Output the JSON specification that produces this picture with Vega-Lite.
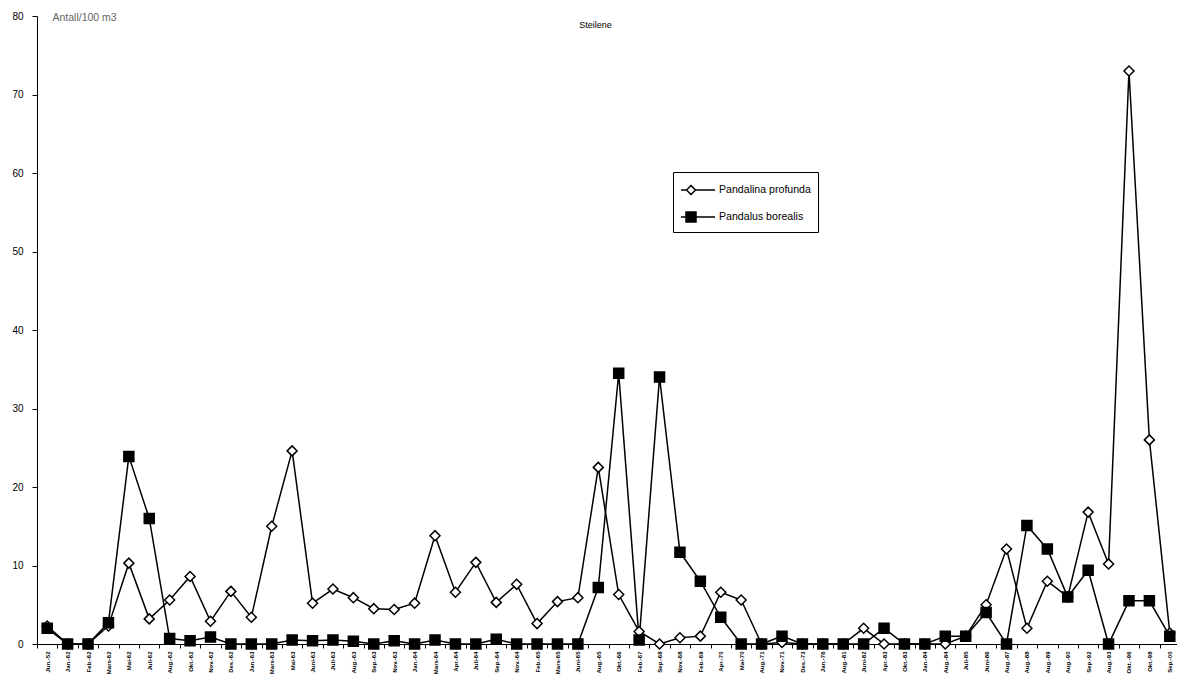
{
  "$schema": "https://vega.github.io/schema/vega-lite/v6.json",
  "width": 1143,
  "height": 628,
  "autosize": {"type": "none"},
  "padding": {"left": 37, "top": 16, "right": 0, "bottom": 31},
  "background": "white",
  "config": {
    "view": {"stroke": null},
    "font": "Liberation Sans",
    "axis": {"domainColor": "black", "tickColor": "black", "labelColor": "black", "grid": false, "domainWidth": 1, "tickWidth": 1},
    "legend": {"title": null, "orient": "none", "legendX": 636, "legendY": 156, "padding": 7, "strokeColor": "black", "fillColor": "white", "rowPadding": 8, "symbolSize": 400, "labelFontSize": 10.6, "labelOffset": 17, "labelColor": "black", "symbolStrokeColor": "black", "symbolStrokeWidth": 1.5}
  },
  "title": {"text": "Steilene", "fontSize": 9, "fontWeight": "normal", "color": "black", "frame": "group", "baseline": "bottom", "offset": -13, "dx": -13, "dy": 15},
  "data": {
    "values": [
      {"i": 1, "d": "Jun.-52", "Pandalina profunda": 2.3, "Pandalus borealis": 2.0},
      {"i": 2, "d": "Jan.-62", "Pandalina profunda": 0, "Pandalus borealis": 0},
      {"i": 3, "d": "Feb.-62", "Pandalina profunda": 0, "Pandalus borealis": 0},
      {"i": 4, "d": "Mars-62", "Pandalina profunda": 2.3, "Pandalus borealis": 2.7},
      {"i": 5, "d": "Mai-62", "Pandalina profunda": 10.3, "Pandalus borealis": 23.9},
      {"i": 6, "d": "Juli-62", "Pandalina profunda": 3.2, "Pandalus borealis": 16.0},
      {"i": 7, "d": "Aug.-62", "Pandalina profunda": 5.6, "Pandalus borealis": 0.7},
      {"i": 8, "d": "Okt.-62", "Pandalina profunda": 8.6, "Pandalus borealis": 0.4},
      {"i": 9, "d": "Nov.-62", "Pandalina profunda": 2.9, "Pandalus borealis": 0.9},
      {"i": 10, "d": "Des.-62", "Pandalina profunda": 6.7, "Pandalus borealis": 0},
      {"i": 11, "d": "Jan.-63", "Pandalina profunda": 3.4, "Pandalus borealis": 0},
      {"i": 12, "d": "Mars-63", "Pandalina profunda": 15.0, "Pandalus borealis": 0},
      {"i": 13, "d": "Mai-63", "Pandalina profunda": 24.6, "Pandalus borealis": 0.5},
      {"i": 14, "d": "Juni-63", "Pandalina profunda": 5.2, "Pandalus borealis": 0.4},
      {"i": 15, "d": "Juli-63", "Pandalina profunda": 7.0, "Pandalus borealis": 0.5},
      {"i": 16, "d": "Aug.-63", "Pandalina profunda": 5.9, "Pandalus borealis": 0.35},
      {"i": 17, "d": "Sep.-63", "Pandalina profunda": 4.5, "Pandalus borealis": 0},
      {"i": 18, "d": "Nov.-63", "Pandalina profunda": 4.4, "Pandalus borealis": 0.4},
      {"i": 19, "d": "Jan.-64", "Pandalina profunda": 5.2, "Pandalus borealis": 0},
      {"i": 20, "d": "Mars-64", "Pandalina profunda": 13.8, "Pandalus borealis": 0.5},
      {"i": 21, "d": "Apr.-64", "Pandalina profunda": 6.6, "Pandalus borealis": 0},
      {"i": 22, "d": "Juli-64", "Pandalina profunda": 10.4, "Pandalus borealis": 0},
      {"i": 23, "d": "Sep.-64", "Pandalina profunda": 5.3, "Pandalus borealis": 0.6},
      {"i": 24, "d": "Nov.-64", "Pandalina profunda": 7.6, "Pandalus borealis": 0},
      {"i": 25, "d": "Feb.-65", "Pandalina profunda": 2.6, "Pandalus borealis": 0},
      {"i": 26, "d": "Mars-65", "Pandalina profunda": 5.4, "Pandalus borealis": 0},
      {"i": 27, "d": "Juni-65", "Pandalina profunda": 5.9, "Pandalus borealis": 0},
      {"i": 28, "d": "Aug.-65", "Pandalina profunda": 22.5, "Pandalus borealis": 7.2},
      {"i": 29, "d": "Okt.-66", "Pandalina profunda": 6.3, "Pandalus borealis": 34.5},
      {"i": 30, "d": "Feb.-67", "Pandalina profunda": 1.6, "Pandalus borealis": 0.5},
      {"i": 31, "d": "Sep.-68", "Pandalina profunda": 0, "Pandalus borealis": 34.0},
      {"i": 32, "d": "Nov.-68", "Pandalina profunda": 0.8, "Pandalus borealis": 11.7},
      {"i": 33, "d": "Feb.-69", "Pandalina profunda": 1.0, "Pandalus borealis": 8.0},
      {"i": 34, "d": "Apr.-70", "Pandalina profunda": 6.6, "Pandalus borealis": 3.4},
      {"i": 35, "d": "Mai-70", "Pandalina profunda": 5.6, "Pandalus borealis": 0},
      {"i": 36, "d": "Aug.-71", "Pandalina profunda": 0, "Pandalus borealis": 0},
      {"i": 37, "d": "Nov.-71", "Pandalina profunda": 0.2, "Pandalus borealis": 1.0},
      {"i": 38, "d": "Des.-73", "Pandalina profunda": 0, "Pandalus borealis": 0},
      {"i": 39, "d": "Jan.-76", "Pandalina profunda": 0, "Pandalus borealis": 0},
      {"i": 40, "d": "Aug.-81", "Pandalina profunda": 0, "Pandalus borealis": 0},
      {"i": 41, "d": "Juni-82", "Pandalina profunda": 2.0, "Pandalus borealis": 0},
      {"i": 42, "d": "Apr.-83", "Pandalina profunda": 0, "Pandalus borealis": 2.0},
      {"i": 43, "d": "Okt.-83", "Pandalina profunda": 0, "Pandalus borealis": 0},
      {"i": 44, "d": "Jan.-84", "Pandalina profunda": 0, "Pandalus borealis": 0},
      {"i": 45, "d": "Aug.-84", "Pandalina profunda": 0, "Pandalus borealis": 1.0},
      {"i": 46, "d": "Juli-85", "Pandalina profunda": 1.0, "Pandalus borealis": 1.0},
      {"i": 47, "d": "Juni-86", "Pandalina profunda": 5.0, "Pandalus borealis": 4.0},
      {"i": 48, "d": "Aug.-87", "Pandalina profunda": 12.1, "Pandalus borealis": 0},
      {"i": 49, "d": "Aug.-88", "Pandalina profunda": 2.0, "Pandalus borealis": 15.1},
      {"i": 50, "d": "Aug.-89", "Pandalina profunda": 8.0, "Pandalus borealis": 12.1},
      {"i": 51, "d": "Aug.-90", "Pandalina profunda": 6.0, "Pandalus borealis": 6.0},
      {"i": 52, "d": "Sep.-92", "Pandalina profunda": 16.8, "Pandalus borealis": 9.4},
      {"i": 53, "d": "Aug.-93", "Pandalina profunda": 10.2, "Pandalus borealis": 0},
      {"i": 54, "d": "Okt. -96", "Pandalina profunda": 73.0, "Pandalus borealis": 5.5},
      {"i": 55, "d": "Okt.-98", "Pandalina profunda": 26.0, "Pandalus borealis": 5.5},
      {"i": 56, "d": "Sep.-00", "Pandalina profunda": 1.4, "Pandalus borealis": 1.0}
    ]
  },
  "transform": [{"fold": ["Pandalina profunda", "Pandalus borealis"], "as": ["art", "verdi"]}],
  "encoding": {
    "x": {
      "field": "d", "type": "ordinal", "sort": null,
      "scale": {"type": "band", "paddingInner": 0, "paddingOuter": 0},
      "axis": {"title": null, "labelAngle": -90, "labelAlign": "right", "labelBaseline": "middle", "labelFontSize": 6, "labelFontWeight": "bold", "labelPadding": 3, "tickBand": "extent", "tickSize": 4, "labelOverlap": false}
    },
    "y": {
      "field": "verdi", "type": "quantitative",
      "scale": {"domain": [0, 80], "nice": false},
      "axis": {"values": [0, 10, 20, 30, 40, 50, 60, 70, 80], "title": "Antall/100 m3", "titleAngle": 0, "titleX": 15, "titleY": 1, "titleAlign": "left", "titleBaseline": "middle", "titleFontSize": 10.5, "titleFontWeight": "normal", "titleColor": "#666666", "labelFontSize": 10, "tickSize": 5, "labelPadding": 9}
    }
  },
  "layer": [
    {
      "mark": {"type": "line", "color": "black", "strokeWidth": 1.5},
      "encoding": {"detail": {"field": "art", "type": "nominal"}, "order": {"field": "i", "type": "quantitative"}}
    },
    {
      "transform": [{"filter": "datum.art === 'Pandalina profunda'"}],
      "mark": {"type": "point", "shape": "diamond", "filled": true, "stroke": "black", "strokeWidth": 1.5, "size": 100, "opacity": 1},
      "encoding": {
        "fill": {
          "field": "art", "type": "nominal",
          "scale": {"domain": ["Pandalina profunda", "Pandalus borealis"], "range": ["white", "black"]},
          "legend": {"symbolType": {"expr": "datum.value === 'Pandalina profunda' ? 'M-1,0H-0.45M-0.45,0L0,-0.45L0.45,0L0,0.45ZM0.45,0H2.4' : 'M-1,0H-0.5M-0.5,-0.5H0.5V0.5H-0.5ZM0.5,0H2.4'"}}
        }
      }
    },
    {
      "transform": [{"filter": "datum.art === 'Pandalus borealis'"}],
      "mark": {"type": "point", "shape": "square", "filled": true, "stroke": "black", "strokeWidth": 1.5, "size": 100, "opacity": 1},
      "encoding": {
        "fill": {
          "field": "art", "type": "nominal",
          "scale": {"domain": ["Pandalina profunda", "Pandalus borealis"], "range": ["white", "black"]},
          "legend": {"symbolType": {"expr": "datum.value === 'Pandalina profunda' ? 'M-1,0H-0.45M-0.45,0L0,-0.45L0.45,0L0,0.45ZM0.45,0H2.4' : 'M-1,0H-0.5M-0.5,-0.5H0.5V0.5H-0.5ZM0.5,0H2.4'"}}
        }
      }
    }
  ]
}
